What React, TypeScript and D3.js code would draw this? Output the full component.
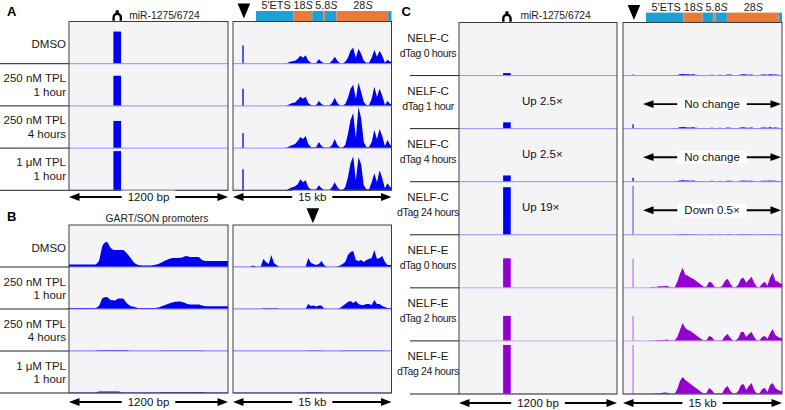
import { useEffect, useRef } from 'react';
import * as d3 from 'd3';

const FONT = '"Liberation Sans", Arial, Helvetica, sans-serif';

const BLUE = '#0000f2';
const BLUE_BASE = '#8f8fff';
const BLUE_SPIKE = '#6b6bff';
const PURPLE = '#9300cf';
const PURPLE_BASE = '#c9a2ea';
const PURPLE_SPIKE = '#c27ae8';
const BOX_BG = '#f4f4f7';
const BOX_EDGE = '#3c3c3c';
const RRNA_BLUE = '#1e9fd6';
const RRNA_ORANGE = '#ea7a36';

// row labels
const tplRows = [['DMSO'], ['250 nM TPL', '1 hour'], ['250 nM TPL', '4 hours'], ['1 μM TPL', '1 hour']];
const nelfRows = [
    ['NELF-C', 'dTag 0 hours'], ['NELF-C', 'dTag 1 hour'], ['NELF-C', 'dTag 4 hours'], ['NELF-C', 'dTag 24 hours'],
    ['NELF-E', 'dTag 0 hours'], ['NELF-E', 'dTag 2 hours'], ['NELF-E', 'dTag 24 hours'],
];

// miR-1275/6724 locus, 1200 bp window
const SHORT_BP = 1200;
const mirPeakBp = [335, 393];
const mirTpl = [32, 30, 27, 39];
const mirNelfC = [2.5, 6.25, 6.25, 47.5];
const mirNelfE = [29.5, 25, 49];
const nelfCUp = ['', 'Up 2.5×', 'Up 2.5×', 'Up 19×'];

// GART/SON promoters, 30 bp bins over 1200 bp
const PROMOTER_BIN = 30;
const promoterTpl = [
    [2.5, 2.5, 2.5, 2.5, 2.5, 2.5, 2.5, 6, 22, 25, 19, 17, 17, 17, 14, 9, 4, 2, 1.5, 1.5,
     1.5, 2, 3, 5, 7, 8.5, 9, 9, 9.5, 11, 10, 10, 10, 7, 6, 6, 6, 6, 6, 6],
    [1, 1, 1, 1, 1, 1, 1, 3, 11, 12, 9, 8.5, 10.5, 10.5, 6, 3, 2, 1, 1, 1,
     1, 1, 1.5, 3, 4.5, 6, 7, 7.5, 7, 5.5, 4.5, 4.5, 4.5, 3.5, 2.7, 2.7, 2.7, 2.7, 2.7, 2.7],
    [0.3, 0.3, 0.3, 0.3, 0.3, 0.3, 0.3, 0.8, 0.8, 0.8, 0.8, 0.8, 0.8, 0.8, 0.8, 0.3, 0.3, 0.3, 0.3, 0.3,
     0.3, 0.3, 0.3, 0.6, 0.6, 0.6, 0.6, 0.6, 0.6, 0.6, 0.6, 0.6, 0.6, 0.6, 0.3, 0.3, 0.3, 0.3, 0.3, 0.3],
    [0.4, 0.4, 0.4, 0.4, 0.4, 0.4, 0.4, 1.5, 1.5, 1.5, 1.5, 1.5, 1.5, 0.6, 0.6, 0.6, 0.6, 0.6, 0.6, 0.6,
     0.6, 0.6, 0.6, 0.9, 0.9, 0.9, 0.9, 0.9, 0.9, 0.9, 0.9, 0.9, 0.9, 0.9, 0.6, 0.6, 0.6, 0.6, 0.6, 0.6],
];

// 15 kb windows, 0.25 kb bins
const LONG_KB = 15;
const KB_BIN = 0.25;
const rdnaTssKb = 0.95;
const rdnaMarkerKb = 1.03;
const locusMarkerKb = 7.56;

const rdnaSegments: [string, number, number][] = [
    ['ets', 2.17, 5.7], ['rrna', 5.7, 7.5], ['its', 7.5, 8.55], ['rrna', 8.55, 8.72],
    ['its', 8.72, 9.8], ['rrna', 9.8, 14.68], ['ets', 14.68, 15],
];
const rdnaLabels = [
    { plain: "5'ETS", ital: '', kb: 2.7, anchor: 'start' },
    { plain: '18', ital: 'S', kb: 5.72, anchor: 'start' },
    { plain: '5.8', ital: 'S', kb: 7.78, anchor: 'start' },
    { plain: '28', ital: 'S', kb: 12.3, anchor: 'middle' },
];

const rdnaTssTpl = [18, 17, 15, 21];
const rdnaTpl = [
    [0, 0, 0, 0, 0, 0, 0, 0, 0, 0,
     0, 0, 0, 0, 0, 0, 0, 0, 0, 0,
     0.5, 2, 2.5, 3, 5, 8, 6, 8.5, 3, 1,
     0.5, 1, 4.5, 2, 0.5, 0.5, 0.5, 3, 7, 3,
     0.5, 0.5, 2, 6, 13, 16, 6, 15, 10, 3,
     1, 1, 6, 14, 7, 13, 8, 1, 4, 2],
    [0, 0, 0, 0, 0, 0, 0, 0, 0, 0,
     0, 0, 0, 0, 0, 0, 0, 0, 0, 0,
     0.5, 2, 3, 3.5, 6, 9, 7, 9, 3, 1,
     0.5, 1, 5, 2, 0.5, 0.5, 0.5, 3, 8, 3,
     0.5, 0.5, 2, 8, 17, 21, 7, 23, 14, 4,
     1, 1, 7, 19, 9, 17, 10, 1, 5, 2],
    [0, 0, 0, 0, 0, 0, 0, 0, 0, 0,
     0, 0, 0, 0, 0, 0, 0, 0, 0, 0,
     0.5, 2, 3, 4, 7, 11, 9, 12, 4, 1,
     0.5, 1, 6, 2, 0.5, 0.5, 0.5, 3, 9, 3,
     0.5, 0.5, 3, 14, 28, 35, 10, 41, 30, 6,
     1, 1, 6, 18, 9, 19, 12, 2, 8, 3],
    [0, 0, 0, 0, 0, 0, 0, 0, 0, 0,
     0, 0, 0, 0, 0, 0, 0, 0, 0, 0,
     0.5, 2, 3, 4, 6, 11, 8, 10, 3, 1,
     0.5, 1, 5, 2, 0.5, 0.5, 0.5, 3, 8, 3,
     0.5, 0.5, 3, 13, 27, 34, 10, 33, 26, 5,
     1, 1, 8, 17, 8, 20, 12, 2, 7, 3],
];

// second 15 kb locus (GART/SON region)
const locusTpl = [
    [0.3, 0.3, 0.3, 0.3, 0.3, 0.3, 0.3, 1.5, 0.5, 0.3,
     0.5, 8, 5, 3, 12, 4, 2, 0.3, 0.3, 0.3,
     0.3, 0.3, 0.3, 0.3, 0.3, 0.3, 0.3, 0.3, 9, 4,
     3, 2, 3, 6, 2, 0.3, 0.3, 0.3, 0.3, 0.5,
     1.5, 3, 5, 12, 15, 16, 7, 6, 7, 5,
     7, 8, 9, 17, 8, 9, 11, 5, 2, 2],
    [0.2, 0.2, 0.2, 0.2, 0.2, 0.2, 0.2, 0.2, 0.2, 0.2,
     0.2, 0.8, 0.8, 0.8, 0.8, 0.8, 0.8, 0.2, 0.2, 0.2,
     0.2, 0.2, 0.2, 0.2, 0.2, 0.2, 0.2, 0.2, 5, 3,
     3.5, 2.5, 3.5, 3.5, 0.5, 0.3, 0.3, 0.3, 0.3, 0.3,
     1, 3, 5, 7, 8, 6, 8, 5, 4, 4,
     5, 5, 4, 9, 5, 5, 3, 2, 1, 1],
    [0.2, 0.2, 0.2, 0.2, 0.2, 0.2, 0.2, 0.2, 0.2, 0.2,
     0.2, 0.2, 0.2, 0.2, 0.2, 0.2, 0.2, 0.2, 0.2, 0.2,
     0.2, 0.2, 0.2, 0.2, 0.2, 0.2, 0.2, 0.2, 0.5, 0.5,
     0.5, 0.5, 0.5, 0.5, 0.2, 0.2, 0.2, 0.2, 0.2, 0.2,
     0.2, 0.5, 0.5, 0.5, 0.5, 0.5, 0.5, 0.5, 0.5, 0.5,
     0.5, 0.5, 0.5, 0.5, 0.5, 0.5, 0.5, 0.3, 0.3, 0.3],
    [0.2, 0.2, 0.2, 0.2, 0.2, 0.2, 0.2, 0.2, 0.2, 0.2,
     0.2, 0.2, 0.2, 0.2, 0.2, 0.2, 0.2, 0.2, 0.2, 0.2,
     0.2, 0.2, 0.2, 0.2, 0.2, 0.2, 0.2, 0.2, 0.8, 0.8,
     0.8, 0.8, 0.8, 0.8, 0.3, 0.3, 0.3, 0.3, 0.3, 0.3,
     0.3, 0.3, 0.3, 0.3, 0.3, 0.3, 0.3, 0.3, 0.3, 0.3,
     0.3, 0.3, 0.3, 0.3, 0.3, 0.3, 0.3, 0.3, 0.3, 0.3],
];

// NELF degron rDNA profiles
const rdnaTssNelfC = [1, 4.5, 4, 49];
const rdnaTssNelfE = [29, 25, 49];
const rdnaNelfFold = ['', 'No change', 'No change', 'Down 0.5×'];
const rdnaNelfC = [
    [0, 0, 0, 0, 0, 0, 0, 0, 0, 0,
     0, 0, 0, 0, 0, 0, 0, 0, 0, 0.3,
     0.5, 1.2, 1.5, 1.3, 1.2, 1, 1.2, 0.8, 0.6, 0.2,
     0.2, 0.2, 0.4, 0.9, 0.2, 0.2, 0.9, 0.3, 0.2, 1,
     1, 0.2, 0.2, 0.3, 1, 1.2, 1, 0.9, 1.1, 0.4,
     0.2, 0.3, 1, 1.1, 0.9, 1.2, 1, 1.1, 0.8, 0.6],
    [0, 0, 0, 0, 0, 0, 0, 0, 0, 0,
     0, 0, 0, 0, 0, 0, 0, 0, 0, 0.3,
     0.5, 1.3, 1.6, 1.4, 1.2, 1.1, 1.3, 0.9, 0.6, 0.2,
     0.2, 0.2, 0.4, 1, 0.2, 0.2, 1, 0.3, 0.2, 1.1,
     1, 0.2, 0.2, 0.3, 1.1, 1.3, 1, 1, 1.2, 0.4,
     0.2, 0.3, 1.1, 1.2, 1, 1.3, 1, 1.2, 0.9, 0.6],
    [0, 0, 0, 0, 0, 0, 0, 0, 0, 0,
     0, 0, 0, 0, 0, 0, 0, 0, 0, 0.3,
     0.4, 1.1, 1.4, 1.2, 1.1, 1, 1.1, 0.8, 0.5, 0.2,
     0.2, 0.2, 0.3, 0.9, 0.2, 0.2, 0.8, 0.3, 0.2, 0.9,
     0.9, 0.2, 0.2, 0.3, 1, 1.1, 0.9, 0.9, 1, 0.4,
     0.2, 0.3, 0.9, 1, 0.9, 1.1, 0.9, 1, 0.8, 0.5],
    [0, 0, 0, 0, 0, 0, 0, 0, 0, 0,
     0, 0, 0, 0, 0, 0, 0, 0, 0, 0.1,
     0.3, 0.6, 0.8, 0.7, 0.6, 0.5, 0.6, 0.4, 0.3, 0.1,
     0.1, 0.1, 0.2, 0.5, 0.1, 0.1, 0.5, 0.2, 0.1, 0.5,
     0.5, 0.1, 0.1, 0.2, 0.5, 0.6, 0.5, 0.5, 0.6, 0.2,
     0.1, 0.2, 0.5, 0.6, 0.5, 0.6, 0.5, 0.6, 0.4, 0.3],
];
const rdnaNelfE = [
    [0, 0, 0, 0, 0, 0, 0, 0, 0, 0,
     0.5, 1, 0.5, 1.5, 1.5, 1.5, 2, 1, 0.5, 0.5,
     6, 14, 20, 13, 12, 10, 9, 7, 5, 3,
     1, 1, 6, 5, 1, 0.5, 0.5, 2, 7, 9,
     4, 0.5, 0.5, 3, 9, 10, 5, 8, 11, 5,
     1, 0.5, 4, 6, 2, 10, 15, 7, 6, 4],
    [0, 0, 0, 0, 0, 0, 0, 0, 0, 0,
     0.3, 0.5, 0.5, 1, 1, 1, 1.5, 0.5, 0.3, 0.3,
     4, 11, 18, 13, 11, 10, 8, 6, 4, 2,
     0.5, 1, 5, 4, 0.5, 0.5, 0.5, 1, 5, 7,
     3, 0.5, 0.5, 3, 9, 9, 4, 7, 9, 4,
     0.5, 0.5, 4, 5, 2, 8, 12, 6, 4, 3],
    [0, 0, 0, 0, 0, 0, 0, 0, 0, 0,
     0.3, 0.5, 0.5, 1, 1, 1.5, 1.5, 0.5, 0.3, 0.3,
     5, 13, 17, 14, 12, 10, 8, 6, 4, 2,
     0.5, 1, 6, 4, 0.5, 0.5, 0.5, 1, 6, 8,
     3, 0.5, 0.5, 3, 9, 10, 4, 8, 11, 4,
     0.5, 0.5, 5, 6, 2, 9, 11, 6, 4, 3],
];

type Box = { x0: number; x1: number; top: number; h: number; n: number; max: number };

const boxA1: Box = { x0: 69, x1: 228, top: 21.5, h: 42.2, n: 4, max: 42 };
const boxA2: Box = { ...boxA1, x0: 233, x1: 391.5 };
const boxB1: Box = { x0: 69, x1: 228, top: 225, h: 42, n: 4, max: 42 };
const boxB2: Box = { ...boxB1, x0: 233, x1: 391.5 };
const boxC1: Box = { x0: 459, x1: 617, top: 22.5, h: 53.07, n: 7, max: 53 };
const boxC2: Box = { ...boxC1, x0: 623, x1: 782 };

export default function App() {
    const svgRef = useRef<SVGSVGElement>(null);

    useEffect(() => {
        if (!svgRef.current) return;
        const svg = d3.select(svgRef.current);
        svg.selectAll('*').remove();
        const root = svg.append('g').attr('font-family', FONT);

        const xShort = (b: Box) => d3.scaleLinear().domain([0, SHORT_BP]).range([b.x0, b.x1]);
        const xLong = (b: Box) => d3.scaleLinear().domain([0, LONG_KB]).range([b.x0, b.x1]);
        const yTrack = (b: Box, k: number) =>
            d3.scaleLinear().domain([0, b.max]).range([b.top + (k + 1) * b.h, b.top + k * b.h]);

        const background = (b: Box) =>
            root.append('rect').attr('x', b.x0).attr('y', b.top)
                .attr('width', b.x1 - b.x0).attr('height', b.h * b.n).attr('fill', BOX_BG);
        const frame = (b: Box) =>
            root.append('rect').attr('x', b.x0).attr('y', b.top)
                .attr('width', b.x1 - b.x0).attr('height', b.h * b.n)
                .attr('fill', 'none').attr('stroke', BOX_EDGE).attr('stroke-width', 1);
        const baseline = (b: Box, k: number, color: string) =>
            root.append('line').attr('x1', b.x0).attr('x2', b.x1)
                .attr('y1', b.top + (k + 1) * b.h).attr('y2', b.top + (k + 1) * b.h)
                .attr('stroke', color).attr('stroke-width', 1);

        const profile = (values: number[], bin: number, span: number,
            x: d3.ScaleLinear<number, number>, y: d3.ScaleLinear<number, number>,
            color: string, curve: d3.CurveFactory) => {
            const pts: [number, number][] = [[0, values[0]],
                ...values.map((v, i) => [(i + 0.5) * bin, v] as [number, number]),
                [span, values[values.length - 1]]];
            const area = d3.area<[number, number]>()
                .x(d => x(d[0])).y0(y(0)).y1(d => y(d[1])).curve(curve);
            root.append('path').datum(pts).attr('d', area).attr('fill', color);
        };

        const spike = (kb: number, v: number, x: d3.ScaleLinear<number, number>,
            y: d3.ScaleLinear<number, number>, color: string) =>
            root.append('line').attr('x1', x(kb)).attr('x2', x(kb))
                .attr('y1', y(0)).attr('y2', y(v)).attr('stroke', color).attr('stroke-width', 1.3);

        const peakBar = (v: number, x: d3.ScaleLinear<number, number>,
            y: d3.ScaleLinear<number, number>, color: string) =>
            root.append('rect').attr('x', x(mirPeakBp[0])).attr('y', y(v))
                .attr('width', x(mirPeakBp[1]) - x(mirPeakBp[0])).attr('height', y(0) - y(v))
                .attr('fill', color);

        const rowLabels = (b: Box, rows: string[][], cx: number, anchor: string,
            lineX0: number, single: number, two: [number, number], secondSize: number) => {
            rows.forEach((lines, k) => {
                const mid = b.top + (k + 0.5) * b.h;
                const offs = lines.length === 1 ? [single] : two;
                lines.forEach((t, i) => {
                    root.append('text').attr('x', cx).attr('y', mid + offs[i])
                        .attr('text-anchor', anchor).attr('dominant-baseline', 'central')
                        .attr('font-size', i === 1 ? secondSize : 11.5).attr('fill', '#1a1a1a')
                        .attr('letter-spacing', i === 1 && secondSize < 11 ? -0.35 : 0)
                        .text(t);
                });
                const yl = b.top + (k + 1) * b.h;
                root.append('line').attr('x1', lineX0).attr('x2', b.x0).attr('y1', yl).attr('y2', yl)
                    .attr('stroke', '#222').attr('stroke-width', 1);
            });
        };

        const dblArrow = (x0: number, x1: number, y: number, label: string, pad: number) => {
            const g = root.append('g');
            const head = 10.5, half = 3.9;
            g.append('line').attr('x1', x0 + head - 1).attr('x2', x1 - head + 1)
                .attr('y1', y).attr('y2', y).attr('stroke', '#000').attr('stroke-width', 1.9);
            g.append('path').attr('d', `M${x0},${y}L${x0 + head},${y - half}L${x0 + head},${y + half}Z`).attr('fill', '#000');
            g.append('path').attr('d', `M${x1},${y}L${x1 - head},${y - half}L${x1 - head},${y + half}Z`).attr('fill', '#000');
            const t = g.append('text').attr('x', (x0 + x1) / 2).attr('y', y)
                .attr('text-anchor', 'middle').attr('dominant-baseline', 'central')
                .attr('font-size', 11.5).attr('fill', '#111').text(label);
            const bb = (t.node() as SVGTextElement).getBBox();
            g.insert('rect', 'text').attr('x', bb.x - pad).attr('y', y - 6.5)
                .attr('width', bb.width + pad * 2).attr('height', 13).attr('fill', '#fff');
        };

        const rdnaBar = (b: Box, barTop: number) => {
            const x = xLong(b);
            rdnaSegments.forEach(([kind, s, e]) => {
                root.append('rect').attr('x', x(s)).attr('y', barTop)
                    .attr('width', Math.max(0.8, x(e) - x(s))).attr('height', b.top - barTop)
                    .attr('fill', kind === 'rrna' ? RRNA_ORANGE : RRNA_BLUE);
            });
            rdnaLabels.forEach(l => {
                const t = root.append('text').attr('x', x(l.kb)).attr('y', barTop - 2)
                    .attr('text-anchor', l.anchor).attr('font-size', 10.8).attr('fill', '#222');
                t.append('tspan').text(l.plain);
                if (l.ital) t.append('tspan').attr('font-style', 'italic').text(l.ital);
            });
        };

        const marker = (cx: number, top: number) =>
            root.append('path').attr('d', `M${cx - 6.3},${top}L${cx + 6.3},${top}L${cx},${top + 15}Z`).attr('fill', '#000');

        const mirIcon = (cx: number, bottom: number) => {
            root.append('rect').attr('x', cx - 1.6).attr('y', bottom - 10.5)
                .attr('width', 3.2).attr('height', 4.5).attr('fill', '#000');
            root.append('path')
                .attr('d', `M${cx - 3.6},${bottom} V${bottom - 3.5} A3.6,3.6 0 0 1 ${cx + 3.6},${bottom - 3.5} V${bottom}`)
                .attr('fill', 'none').attr('stroke', '#000').attr('stroke-width', 2.4);
        };

        const letter = (t: string, x: number, y: number) =>
            root.append('text').attr('x', x).attr('y', y).attr('font-size', 13)
                .attr('font-weight', 'bold').attr('fill', '#000').text(t);

        // ---------- Panel A ----------
        letter('A', 7, 15.5);
        [boxA1, boxA2].forEach(background);
        {
            const x = xShort(boxA1);
            mirTpl.forEach((v, k) => peakBar(v, x, yTrack(boxA1, k), BLUE));
            mirTpl.forEach((_, k) => baseline(boxA1, k, BLUE_BASE));
            const cx = x((mirPeakBp[0] + mirPeakBp[1]) / 2);
            mirIcon(cx, 20.8);
            root.append('text').attr('x', cx + 12).attr('y', 18.5).attr('font-size', 10.3)
                .attr('fill', '#222').text('miR-1275/6724');
        }
        {
            const x = xLong(boxA2);
            rdnaTpl.forEach((vals, k) => {
                const y = yTrack(boxA2, k);
                profile(vals, KB_BIN, LONG_KB, x, y, BLUE, d3.curveLinear);
                spike(rdnaTssKb, rdnaTssTpl[k], x, y, BLUE);
                baseline(boxA2, k, BLUE_BASE);
            });
            rdnaBar(boxA2, 11);
            marker(x(rdnaMarkerKb), 3.4);
        }
        [boxA1, boxA2].forEach(frame);
        rowLabels(boxA1, tplRows, 66, 'end', 0, 1.2, [-7, 6.8], 11.5);
        dblArrow(boxA1.x0, boxA1.x1, 197, '1200 bp', 6);
        dblArrow(boxA2.x0, boxA2.x1, 197, '15 kb', 6);

        // ---------- Panel B ----------
        letter('B', 7, 220.5);
        [boxB1, boxB2].forEach(background);
        {
            const x = xShort(boxB1);
            promoterTpl.forEach((vals, k) => {
                const y = yTrack(boxB1, k);
                profile(vals, PROMOTER_BIN, SHORT_BP, x, y, BLUE, d3.curveMonotoneX);
                baseline(boxB1, k, BLUE_BASE);
            });
            root.append('text').attr('x', 157).attr('y', 222).attr('text-anchor', 'middle')
                .attr('font-size', 10.3).attr('fill', '#222').text('GART/SON promoters');
        }
        {
            const x = xLong(boxB2);
            locusTpl.forEach((vals, k) => {
                const y = yTrack(boxB2, k);
                profile(vals, KB_BIN, LONG_KB, x, y, BLUE, d3.curveLinear);
                baseline(boxB2, k, BLUE_BASE);
            });
            marker(x(locusMarkerKb), 208.3);
        }
        [boxB1, boxB2].forEach(frame);
        rowLabels(boxB1, tplRows, 66, 'end', 0, 2, [-6, 7.2], 11.5);
        dblArrow(boxB1.x0, boxB1.x1, 402, '1200 bp', 6);
        dblArrow(boxB2.x0, boxB2.x1, 402, '15 kb', 6);

        // ---------- Panel C ----------
        letter('C', 401.5, 16);
        [boxC1, boxC2].forEach(background);
        {
            const x = xShort(boxC1);
            mirNelfC.forEach((v, k) => {
                peakBar(v, x, yTrack(boxC1, k), BLUE);
                baseline(boxC1, k, BLUE_BASE);
                if (nelfCUp[k]) {
                    root.append('text').attr('x', 522).attr('y', boxC1.top + (k + 0.5) * boxC1.h - 1.5)
                        .attr('dominant-baseline', 'central').attr('font-size', 11.5)
                        .attr('fill', '#111').text(nelfCUp[k]);
                }
            });
            mirNelfE.forEach((v, i) => {
                const k = i + 4;
                peakBar(v, x, yTrack(boxC1, k), PURPLE);
                baseline(boxC1, k, PURPLE_BASE);
            });
            const cx = x((mirPeakBp[0] + mirPeakBp[1]) / 2);
            mirIcon(cx, 21.8);
            root.append('text').attr('x', cx + 13.5).attr('y', 18.5).attr('font-size', 10.3)
                .attr('fill', '#222').text('miR-1275/6724');
        }
        {
            const x = xLong(boxC2);
            rdnaNelfC.forEach((vals, k) => {
                const y = yTrack(boxC2, k);
                profile(vals, KB_BIN, LONG_KB, x, y, BLUE, d3.curveStep);
                spike(rdnaTssKb, rdnaTssNelfC[k], x, y, k === 3 ? BLUE_SPIKE : BLUE);
                baseline(boxC2, k, BLUE_BASE);
            });
            rdnaNelfE.forEach((vals, i) => {
                const k = i + 4;
                const y = yTrack(boxC2, k);
                profile(vals, KB_BIN, LONG_KB, x, y, PURPLE, d3.curveLinear);
                spike(rdnaTssKb, rdnaTssNelfE[i], x, y, PURPLE_SPIKE);
                baseline(boxC2, k, PURPLE_BASE);
            });
            rdnaBar(boxC2, 12.6);
            marker(x(rdnaMarkerKb), 5);
        }
        [boxC1, boxC2].forEach(frame);
        rdnaNelfFold.forEach((label, k) => {
            if (!label) return;
            dblArrow(boxC2.x0 + 20, boxC2.x1 - 1, boxC2.top + (k + 0.5) * boxC2.h + 2, label, 7);
        });
        rowLabels(boxC1, nelfRows, 428, 'middle', 410, 0, [-11, 3.6], 10.5);
        dblArrow(boxC1.x0, boxC1.x1, 403, '1200 bp', 6);
        dblArrow(boxC2.x0, boxC2.x1, 403, '15 kb', 6);
    }, []);

    return (
        <svg ref={svgRef} width={785} height={410}
            style={{ position: 'absolute', left: 0, top: 0, background: '#fff', display: 'block' }} />
    );
}
